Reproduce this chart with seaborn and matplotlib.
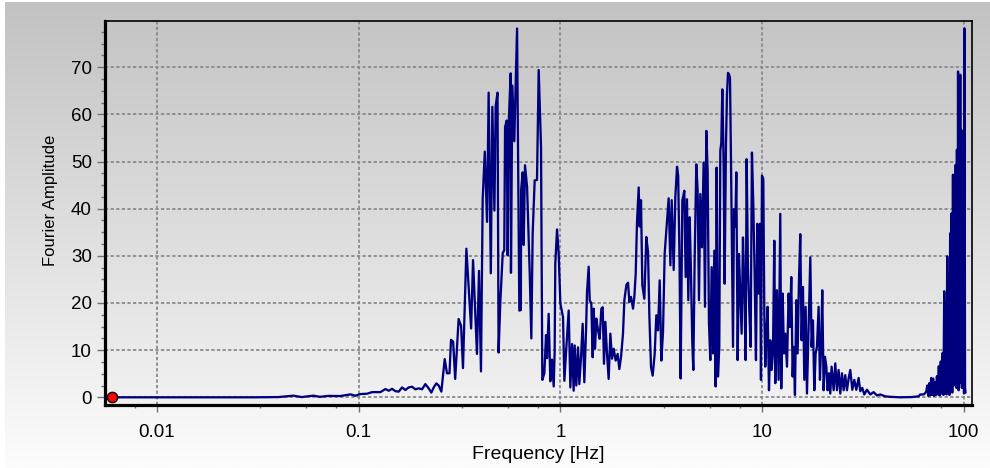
import numpy as np
import pandas as pd
import matplotlib
matplotlib.use("Agg")
import matplotlib.pyplot as plt
import seaborn as sns
from matplotlib.colors import LinearSegmentedColormap
from matplotlib.ticker import FixedLocator, FixedFormatter, MultipleLocator, NullFormatter

# ---------------- data ----------------
freq_hz = [
    0.0055, 0.006, 0.01, 0.02, 0.03, 0.04, 0.0474, 0.0521, 0.0596, 0.0643, 0.0705,
    0.0811, 0.0910, 0.0963, 0.1019, 0.1100, 0.1165, 0.1281, 0.1356, 0.1409, 0.1463,
    0.1521, 0.1579, 0.1641, 0.1704, 0.1770, 0.1839, 0.1910, 0.1984, 0.2061, 0.2141,
    0.2224, 0.2293, 0.2355, 0.2428, 0.2493, 0.2570,
    0.267, 0.274, 0.282, 0.287, 0.294, 0.301, 0.313, 0.322, 0.329, 0.342, 0.361,
    0.369, 0.386, 0.395, 0.404, 0.412, 0.422, 0.433, 0.441, 0.452, 0.460, 0.471,
    0.478, 0.488, 0.494, 0.504, 0.518, 0.527, 0.532, 0.542, 0.548, 0.556, 0.567,
    0.569, 0.578, 0.591, 0.610, 0.621, 0.626, 0.637, 0.639, 0.650, 0.658, 0.668,
    0.684, 0.705, 0.718, 0.729, 0.746, 0.766, 0.781, 0.802, 0.814, 0.833, 0.849,
    0.859, 0.875, 0.892, 0.909, 0.927, 0.937, 0.944, 0.963, 0.981, 1.000,
    1.031, 1.047, 1.071, 1.100, 1.121, 1.143, 1.164, 1.178, 1.200, 1.224, 1.242,
    1.266, 1.290, 1.315, 1.341, 1.356, 1.382, 1.398, 1.424, 1.447, 1.463, 1.486,
    1.508, 1.538, 1.567, 1.597, 1.622, 1.646, 1.672, 1.704, 1.736, 1.770, 1.804,
    1.839, 1.881, 1.924, 1.961, 1.999, 2.045, 2.077, 2.125, 2.166, 2.199, 2.241,
    2.293, 2.328, 2.364, 2.400, 2.446, 2.474, 2.512, 2.550, 2.609, 2.669, 2.721,
    2.763, 2.816, 2.870, 2.936, 2.992, 3.050, 3.109, 3.169, 3.229, 3.291, 3.354,
    3.444, 3.513, 3.566, 3.648, 3.718, 3.790, 3.84, 3.90, 3.95,
    4.026, 4.119, 4.182, 4.246, 4.311, 4.378, 4.445, 4.513, 4.565, 4.634, 4.724,
    4.796, 4.869, 4.944, 5.039, 5.135, 5.214, 5.294, 5.375, 5.458, 5.542, 5.627,
    5.713, 5.801, 5.890, 5.957, 6.049, 6.141, 6.212, 6.283, 6.356, 6.453, 6.527,
    6.627, 6.704, 6.781, 6.860, 6.939, 7.019, 7.100, 7.182, 7.262, 7.374, 7.459,
    7.573, 7.689, 7.806, 7.925, 8.047, 8.170, 8.295, 8.390, 8.518, 8.650, 8.782,
    8.916, 9.053, 9.193, 9.335, 9.478, 9.623, 9.770, 9.883, 9.996, 10.15, 10.27,
    10.38, 10.50, 10.66, 10.83, 10.99, 11.16, 11.33, 11.51, 11.64, 11.86, 12.09,
    12.32, 12.46, 12.66, 12.85, 13.05, 13.30, 13.55, 13.76, 13.97, 14.19, 14.35,
    14.57, 14.79, 15.02, 15.25, 15.48, 15.72, 15.96, 16.21, 16.46, 16.71, 17.03,
    17.36, 17.62, 17.89, 18.17, 18.45, 18.73, 19.09, 19.38, 19.68, 19.90, 20.21,
    20.52, 20.84, 21.15, 21.48, 21.81, 22.14, 22.66, 23.09, 23.53, 23.98, 24.45,
    24.92, 25.40, 25.88, 26.38, 26.89,
    27.40, 28.04, 28.69, 29.35, 30.14, 30.71, 31.42, 32.16, 33.15, 34.43, 35.76,
    37.15, 38.59, 40.86, 43.27, 48.5, 55.0, 59.8, 60.9, 63.3, 64.5, 65.3,
    66.0, 66.8, 67.5, 68.3, 69.0, 69.8, 70.6, 71.3, 72.1, 72.9, 73.7, 74.5, 75.3,
    76.1, 77.0, 77.8, 78.6, 79.4, 80.1, 80.8, 81.5, 82.2, 82.9, 83.6, 84.3, 85.0,
    85.7, 86.4, 87.1, 87.8, 88.5, 89.2, 89.9, 90.6, 91.3, 92.0, 92.6, 93.2, 93.8,
    94.4, 95.0, 95.6, 96.2, 96.8, 97.4, 98.0, 98.6, 99.2, 99.8, 100.4, 101.0,
    101.6, 102.2,
]

amplitude = [
    0.0, 0.0, 0.0, 0.0, 0.0, 0.05, 0.35, 0.05, 0.35, 0.1, 0.3,
    0.27, 0.62, 0.34, 0.69, 0.76, 1.1, 1.1, 1.75, 1.4, 1.8,
    1.3, 1.2, 2.1, 1.55, 2.1, 2.25, 1.7, 1.9, 1.7, 2.8,
    1.9, 1.0, 2.1, 2.95, 2.5, 1.2,
    8.1, 5.1, 5.1, 12.2, 11.8, 3.9, 16.6, 15.1, 6.2, 31.5, 14.6,
    29.1, 9.2, 26.8, 5.5, 42.1, 52.1, 37.2, 64.6, 26.3, 61.6, 39.6,
    61.8, 64.6, 9.5, 20.3, 30.6, 31.2, 57.3, 58.7, 30.1, 59.4, 68.7,
    26.4, 66.1, 54.3, 78.2, 37.5, 18.4, 18.5, 43.9, 47.7, 32.3, 49.2,
    44.6, 26.3, 12.5, 34.7, 46.0, 46.1, 69.4, 53.0, 3.7, 5.1, 13.2,
    8.3, 17.7, 3.4, 8.0, 2.3, 9.7, 28.4, 35.6, 30.5, 19.9,
    17.0, 3.5, 10.6, 18.4, 2.1, 11.3, 1.4, 11.0, 2.5, 10.6, 2.8,
    8.5, 15.6, 3.2, 14.2, 22.3, 27.7, 20.6, 19.9, 8.5, 18.8, 10.3,
    16.7, 14.2, 12.4, 18.8, 19.1, 7.1, 16.0, 9.2, 3.9, 13.5, 8.2,
    10.3, 7.8, 9.2, 6.0, 8.5, 13.5, 20.6, 23.8, 24.3, 20.2, 21.3,
    18.8, 21.3, 26.2, 37.2, 44.5, 36.2, 41.8, 23.8, 20.9, 34.0, 30.9,
    17.4, 6.4, 4.6, 9.2, 17.4, 14.2, 24.8, 7.8, 13.8, 30.5, 35.5,
    42.2, 28.0, 41.8, 27.0, 42.6, 48.9, 47.0, 29.0, 4.0,
    41.7, 43.8, 25.5, 42.0, 20.6, 38.2, 26.2, 11.4, 5.8, 29.0, 49.4,
    43.8, 20.6, 43.1, 31.8, 49.8, 19.2, 56.5, 48.0, 15.6, 7.9, 27.6,
    9.3, 31.1, 2.3, 48.7, 4.4, 10.7, 52.3, 54.0, 65.3, 49.4, 24.1,
    53.7, 64.2, 68.8, 68.5, 67.7, 50.1, 29.7, 10.7, 39.9, 36.1, 47.7,
    7.9, 30.4, 22.0, 13.5, 33.9, 23.4, 7.9, 50.5, 27.6, 18.5, 10.7,
    51.9, 41.0, 26.2, 7.9, 36.8, 22.0, 36.8, 3.7, 47.0, 46.3, 17.7,
    6.5, 12.8, 19.2, 1.5, 12.1, 5.8, 9.3, 33.2, 3.0, 22.7, 3.7,
    38.9, 1.9, 22.0, 9.3, 13.5, 6.5, 22.0, 14.9, 25.5, 4.4, 10.7,
    0.5, 20.6, 9.3, 24.8, 34.6, 12.1, 23.4, 3.7, 19.2, 0.8, 14.9,
    29.7, 10.7, 16.3, 1.5, 9.3, 10.7, 19.2, 3.7, 12.1, 22.7, 1.5,
    8.6, 6.5, 1.5, 5.1, 0.8, 6.5, 1.5, 7.2, 1.5, 5.8, 0.8,
    5.1, 1.5, 4.7, 1.5, 4.0,
    5.8, 1.6, 3.7, 1.6, 4.1, 1.3, 2.0, 0.6, 1.6, 0.6, 1.1,
    0.4, 0.6, 0.2, 0.1, 0.0, 0.05, 0.2, 0.6, 0.6, 0.9, 1.3,
    2.5, 0.3, 3.0, 0.4, 4.1, 0.5, 4.0, 0.3, 3.2, 0.5, 4.5, 0.6, 6.6,
    0.4, 7.6, 0.8, 9.4, 0.5, 22.5, 1.0, 20.0, 0.6, 29.9, 1.2, 26.3, 0.5,
    34.8, 2.0, 39.0, 1.0, 47.2, 2.5, 44.0, 3.0, 49.3, 2.0, 52.5, 3.5, 69.1,
    1.5, 60.0, 3.0, 68.4, 4.0, 56.7, 2.0, 44.7, 3.5, 50.4, 0.8, 78.2,
    2.0, 1.0,
]

marker_freq = [0.006]
marker_amp = [0.0]

x_tick_values = [0.01, 0.1, 1, 10, 100]
x_tick_labels = ["0.01", "0.1", "1", "10", "100"]
y_tick_values = [0, 10, 20, 30, 40, 50, 60, 70]

# ---------------- styling ----------------
sns.set_theme(style="white")
plt.rcParams['font.family'] = ['Liberation Sans', 'DejaVu Sans']

W, H = 990, 468
fig = plt.figure(figsize=(W / 100, H / 100), dpi=100)
fig.patch.set_facecolor('white')

grad = np.linspace(0, 1, 256).reshape(-1, 1)

# outer panel gradient
bg = fig.add_axes([5 / W, 0, (W - 5) / W, (H - 2) / H], zorder=-10)
bg.imshow(grad, aspect='auto', origin='upper', extent=[0, 1, 0, 1],
          cmap=LinearSegmentedColormap.from_list('fig', ['#c2c2c2', '#fcfcfc']))
bg.axis('off')

ax_rect = [105 / W, (H - 405) / H, 867 / W, 384 / H]
# plot area gradient
pbg = fig.add_axes(ax_rect, zorder=-5)
pbg.imshow(grad, aspect='auto', origin='upper', extent=[0, 1, 0, 1],
           cmap=LinearSegmentedColormap.from_list('ax', ['#c5c5c5', '#f1f1f1']))
pbg.axis('off')

ax = fig.add_axes(ax_rect, zorder=1)
ax.patch.set_alpha(0)
ax.set_xscale('log')

df = pd.DataFrame({'Frequency': freq_hz, 'Amplitude': amplitude})
sns.lineplot(data=df, x='Frequency', y='Amplitude', ax=ax, sort=False,
             estimator=None, color='#00007f', linewidth=1.65, zorder=3)
sns.scatterplot(x=marker_freq, y=marker_amp, ax=ax, color='#ff0000',
                edgecolor='black', linewidth=1.0, s=55, zorder=5)

ax.set_xlim(0.00552, 110)
ax.set_ylim(-1.63, 79.8)

ax.xaxis.set_major_locator(FixedLocator(x_tick_values))
ax.xaxis.set_major_formatter(FixedFormatter(x_tick_labels))
minor_x = [d * m for d in (0.001, 0.01, 0.1, 1, 10, 100) for m in (3.25, 5.5, 7.75)]
ax.xaxis.set_minor_locator(FixedLocator(minor_x))
ax.xaxis.set_minor_formatter(NullFormatter())
ax.yaxis.set_major_locator(FixedLocator(y_tick_values))
ax.yaxis.set_minor_locator(MultipleLocator(2.5))

ax.grid(True, which='major', color='#8a8a8a', linestyle=(0, (1.8, 1.3)), linewidth=1.3)
ax.grid(False, which='minor')

ax.tick_params(axis='both', which='both', direction='out', color='#707070',
               labelcolor='black', labelsize=13.5, width=1.0)
ax.tick_params(axis='x', which='major', length=5, pad=8.5)
ax.tick_params(axis='x', which='minor', length=2.5)
ax.tick_params(axis='y', which='major', length=5.8, pad=3.6)
ax.tick_params(axis='y', which='minor', length=2.8)
ax.tick_params(bottom=True, left=True, which='both')

for side in ('left', 'bottom'):
    ax.spines[side].set_linewidth(2.3)
    ax.spines[side].set_color('black')
for side in ('top', 'right'):
    ax.spines[side].set_linewidth(1.2)
    ax.spines[side].set_color('black')
    ax.spines[side].set_visible(True)

ax.set_xlabel('Frequency [Hz]', fontsize=14, labelpad=4, color='black')
ax.set_ylabel('Fourier Amplitude', fontsize=12, color='black')
ax.yaxis.set_label_coords(-0.054, 0.534)

fig.savefig('out.png', dpi=100)
